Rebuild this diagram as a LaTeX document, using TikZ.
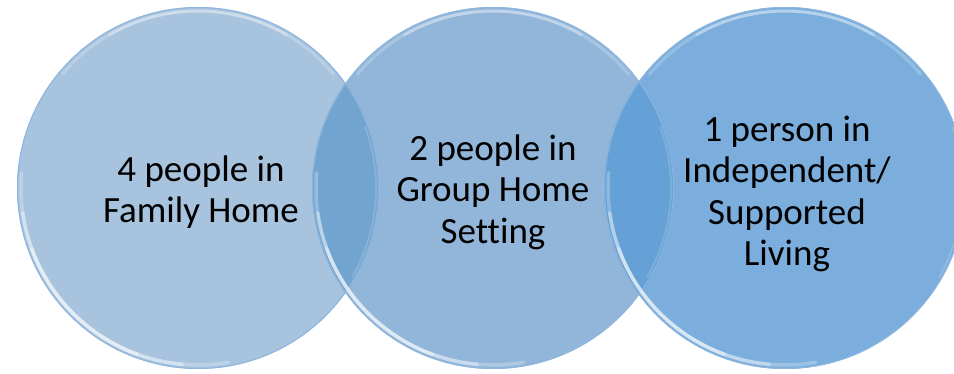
\documentclass[tikz,border=0pt]{standalone}
\usepackage{fontspec}
\setmainfont[Ligatures=NoCommon]{Carlito}
\definecolor{cA}{HTML}{A7C3DE}
\definecolor{cB}{HTML}{92B6DA}
\definecolor{cC}{HTML}{7BAEDC}
\definecolor{cAB}{HTML}{72A4D0}
\definecolor{cBC}{HTML}{65A1D6}
\definecolor{edge}{HTML}{8DB6DE}
\begin{document}
\begin{tikzpicture}[x=1pt,y=1pt,
  disc/.style={circle,minimum size=362pt,inner sep=0pt,draw=none},
  rim/.style={draw=edge,line width=1pt},
  glow/.style={draw=white,line width=3.5pt,line cap=round},
  label/.style={align=center,font=\fontsize{37}{41.5}\selectfont,text=black}]
\useasboundingbox (0,0) rectangle (954,373);
\clip (0,0) rectangle (954,373);
\fill[white] (0,0) rectangle (954,373);
\node[disc,fill=cA] (c1) at (198,185) {};
\node[disc,fill=cB] (c2) at (493,185) {};
\node[disc,fill=cC] (c3) at (785,185) {};
\begin{scope}
  \clip (c1.center) circle (181);
  \fill[cAB] (c2.center) circle (181);
\end{scope}
\begin{scope}
  \clip (c2.center) circle (181);
  \fill[cBC] (c3.center) circle (181);
\end{scope}
\foreach \c in {c1,c2,c3}{
  \draw[rim] (\c.center) circle (180.5);
  \draw[glow,draw opacity=0.25] (\c.center) ++(175:177) arc (175:280:177);
  \draw[glow,draw opacity=0.35] (\c.center) ++(188:177) arc (188:265:177);
  \draw[glow,draw opacity=0.4] (\c.center) ++(200:177) arc (200:250:177);
  \draw[glow,draw opacity=0.2,line width=3pt] (\c.center) ++(40:177) arc (40:140:177);
  \draw[glow,draw opacity=0.3,line width=3pt] (\c.center) ++(60:177) arc (60:120:177);
  \draw[glow,draw opacity=0.15,line width=2pt] (\c.center) ++(-30:178) arc (-30:20:178);
}
\node[label] (t1) at (201,181) {4 people in\\Family Home};
\node[label] (t2) at (493,181) {2 people in\\Group Home\\Setting};
\node[label] (t3) at (787,179) {1 person in\\Independent/\\Supported\\Living};
\end{tikzpicture}
\end{document}
